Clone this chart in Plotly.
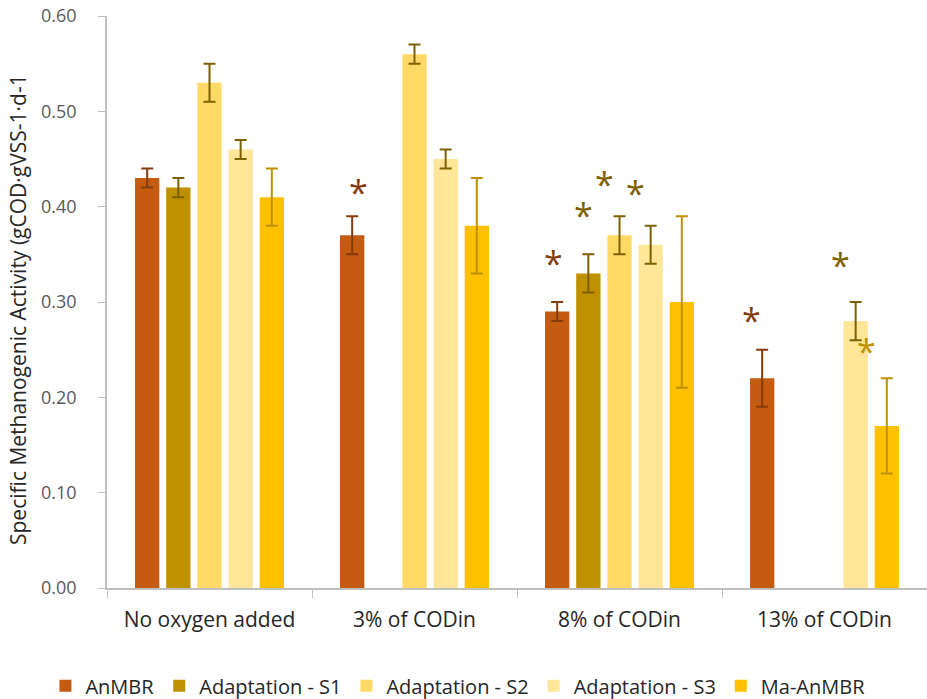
import plotly.graph_objects as go

categories = ["No oxygen added", "3% of CODin", "8% of CODin", "13% of CODin"]
series_names = ["AnMBR", "Adaptation - S1", "Adaptation - S2", "Adaptation - S3", "Ma-AnMBR"]

anmbr = [0.43, 0.37, 0.29, 0.22]
anmbr_err = [0.01, 0.02, 0.01, 0.03]
s1 = [0.42, None, 0.33, None]
s1_err = [0.01, None, 0.02, None]
s2 = [0.53, 0.56, 0.37, None]
s2_err = [0.02, 0.01, 0.02, None]
s3 = [0.46, 0.45, 0.36, 0.28]
s3_err = [0.01, 0.01, 0.02, 0.02]
ma = [0.41, 0.38, 0.30, 0.17]
ma_err = [0.03, 0.05, 0.09, 0.05]

# heights of significance asterisks
anmbr_star = [None, 0.42, 0.345, 0.285]
s1_star = [None, None, 0.395, None]
s2_star = [None, None, 0.428, None]
s3_star = [None, None, 0.419, 0.343]
ma_star = [None, None, None, 0.253]

values = [anmbr, s1, s2, s3, ma]
errors = [anmbr_err, s1_err, s2_err, s3_err, ma_err]
stars = [anmbr_star, s1_star, s2_star, s3_star, ma_star]
bar_colors = ["#C55A11", "#BF9000", "#FFD966", "#FFE699", "#FFC000"]
err_colors = ["#843C0C", "#7F6000", "#7F6000", "#7F6000", "#BF9000"]
star_colors = ["#843C0C", "#7F6000", "#7F6000", "#7F6000", "#BF9000"]
# small horizontal nudges (px) of each asterisk from its bar centre
star_nudge = [
    [0, 6, -4, -11],
    [0, 0, -5, 0],
    [0, 0, -15, 0],
    [0, 0, -15, -15],
    [0, 0, 0, -20],
]

FONT = "Open Sans"
W, H = 927, 699
ML, MR, MT, MB = 107, 0, 16, 111
BARGAP = 0.24

fig = go.Figure()
for name, v, e, bc, ec in zip(series_names, values, errors, bar_colors, err_colors):
    fig.add_trace(go.Bar(
        name=name, x=categories, y=v,
        marker=dict(color=bc, line=dict(width=0)),
        error_y=dict(type="data", array=[x if x is not None else 0 for x in e],
                     visible=True, color=ec, thickness=2, width=6),
    ))

plot_w = W - ML - MR
cat_w = plot_w / len(categories)
slot = cat_w * (1 - BARGAP) / len(series_names)
for i, (st, col) in enumerate(zip(stars, star_colors)):
    for j, (cat, yv) in enumerate(zip(categories, st)):
        if yv is None:
            continue
        fig.add_annotation(
            x=cat, y=yv, xref="x", yref="y", text="*", showarrow=False,
            xshift=(i - 2) * slot + star_nudge[i][j], yshift=-4,
            font=dict(family=FONT, size=34, color=col),
            xanchor="center", yanchor="middle",
        )

fig.add_annotation(
    text="Specific Methanogenic Activity (gCOD·gVSS-1·d-1",
    xref="paper", yref="paper", x=0, y=0.5, xshift=-89, yshift=-8,
    textangle=-90, showarrow=False, xanchor="center", yanchor="middle",
    font=dict(family=FONT, size=21, color="#262626"),
)

fig.update_layout(
    width=W, height=H,
    margin=dict(l=ML, r=MR, t=MT, b=MB, autoexpand=False),
    paper_bgcolor="white", plot_bgcolor="white",
    barmode="group", bargap=BARGAP, bargroupgap=0.22,
    font=dict(family=FONT, color="#404040"),
    showlegend=True,
    legend=dict(orientation="h", xref="container", x=0.494, xanchor="center",
                y=-0.171, yanchor="middle",
                font=dict(family=FONT, size=20, color="#262626"),
                itemwidth=30, tracegroupgap=0),
)
fig.update_yaxes(
    range=[0, 0.6], dtick=0.1, tickformat=".2f", automargin=False,
    showgrid=False, zeroline=False,
    showline=True, linecolor="#BFBFBF", linewidth=1.5,
    ticks="outside", ticklen=7, tickcolor="#BFBFBF",
    tickfont=dict(family=FONT, size=18, color="#595959"),
    ticklabelstandoff=18, ticklabeloverflow="allow",
)
fig.update_xaxes(
    showgrid=False, showline=True, linecolor="#BFBFBF", linewidth=1.5,
    automargin=False,
    ticks="outside", ticklen=8, tickcolor="#BFBFBF", tickson="boundaries",
    tickfont=dict(family=FONT, size=21, color="#262626"),
    ticklabelstandoff=12, ticklabeloverflow="allow",
)

fig.write_html("out.html", config={"displayModeBar": False},
               post_script="document.body.style.margin='0';document.body.style.overflow='hidden';")
